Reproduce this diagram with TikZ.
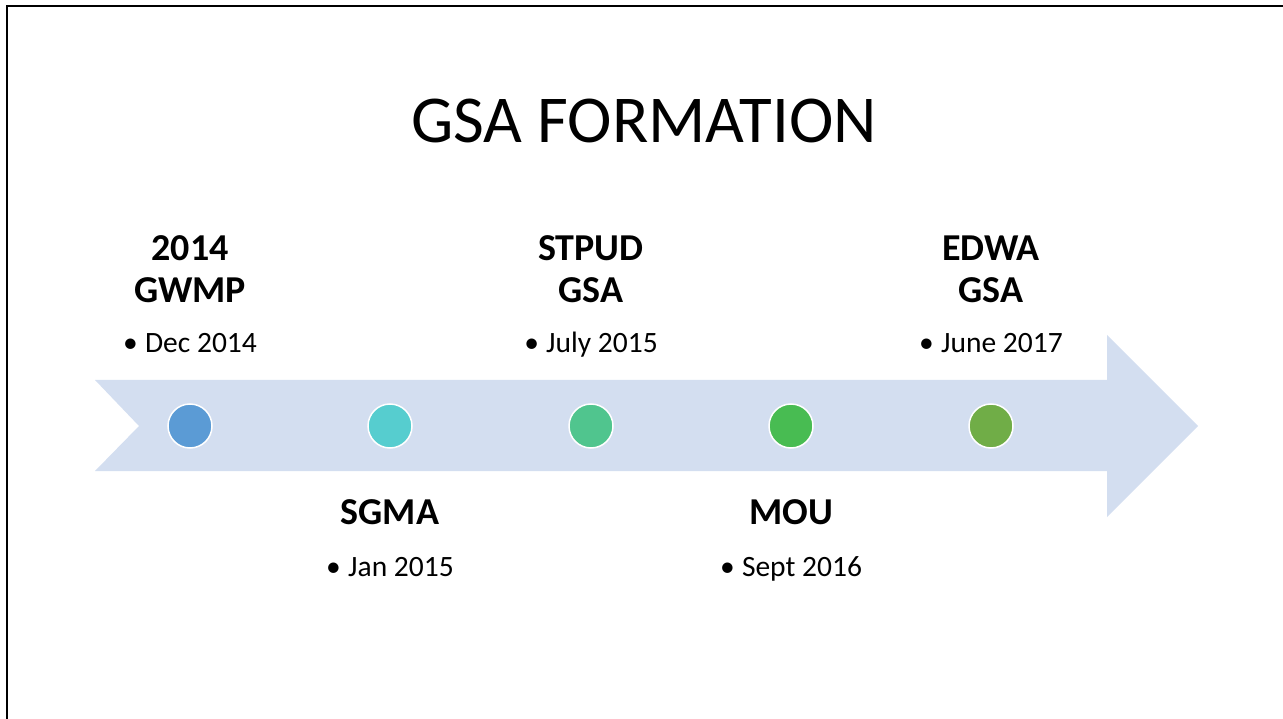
\documentclass[tikz,border=0pt]{standalone}
\usepackage{fontspec}
\setmainfont{Carlito}
\usetikzlibrary{positioning}
\definecolor{arrowblue}{HTML}{D3DEF0}
\definecolor{dotA}{HTML}{5B9BD5}
\definecolor{dotB}{HTML}{56CDCF}
\definecolor{dotC}{HTML}{50C58E}
\definecolor{dotD}{HTML}{48BC52}
\definecolor{dotE}{HTML}{70AD47}
\tikzset{
  dot/.style={circle,draw=white,line width=1.5pt,minimum size=44pt,inner sep=0pt},
  event/.style={font=\fontsize{38}{42}\selectfont\bfseries,align=center,inner sep=0pt,text depth=0pt,anchor=south},
  when/.style={font=\fontsize{29.5}{36}\selectfont,inner sep=0pt,anchor=base},
}
\newcommand{\bulletitem}[1]{\makebox[22pt][l]{\textbullet}#1}

\begin{document}
\begin{tikzpicture}[x=1pt,y=-1pt]
    \useasboundingbox (0,0) rectangle (1283,719);
    % slide frame
    \draw[line width=2.5pt] (7,719) -- (7,6) -- (1283,6);
    \node[font=\fontsize{67}{76}\selectfont,inner sep=0pt,anchor=base] (title) at (644,143) {GSA FORMATION};
    % timeline arrow
    \fill[arrowblue] (95,380) -- (1107,380) -- (1107,335) -- (1198,426) -- (1107,517)
        -- (1107,471) -- (95,471) -- (139,426) -- cycle;
    \node[dot,fill=dotA] (gwmp) at (190,426) {};
    \node[dot,fill=dotB] (sgma) at (390,426) {};
    \node[dot,fill=dotC] (stpud) at (591,426) {};
    \node[dot,fill=dotD] (mou) at (791,426) {};
    \node[dot,fill=dotE] (edwa) at (991,426) {};
    % labels above
    \node[event] (gwmp-t) at (190,303) {2014\\GWMP};
    \node[when] (gwmp-d) at (190,353) {\bulletitem{Dec 2014}};
    \node[event] (stpud-t) at (591,303) {STPUD\\GSA};
    \node[when] (stpud-d) at (591,353) {\bulletitem{July 2015}};
    \node[event] (edwa-t) at (991,303) {EDWA\\GSA};
    \node[when] (edwa-d) at (991,353) {\bulletitem{June 2017}};
    % labels below
    \node[event] (sgma-t) at (390,525) {SGMA};
    \node[when] (sgma-d) at (390,576) {\bulletitem{Jan 2015}};
    \node[event] (mou-t) at (791,525) {MOU};
    \node[when] (mou-d) at (791,576) {\bulletitem{Sept 2016}};
\end{tikzpicture}
\end{document}
